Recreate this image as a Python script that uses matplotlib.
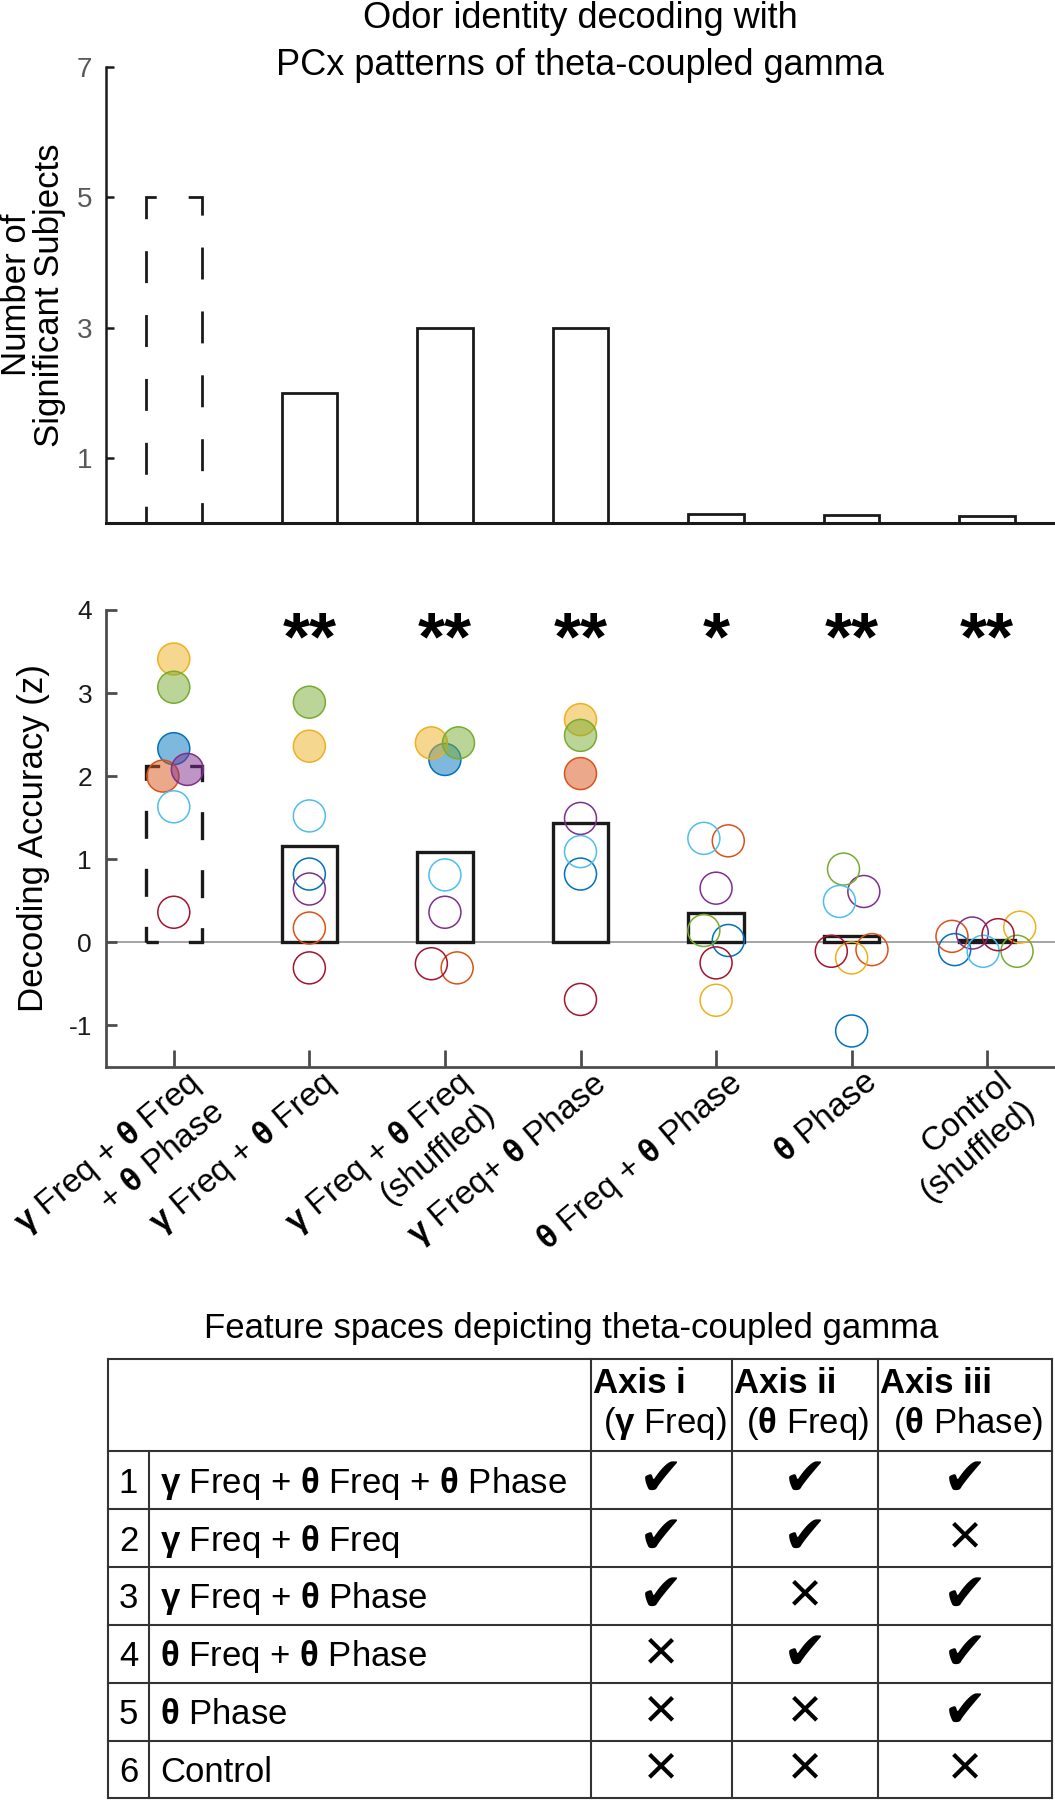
import matplotlib
matplotlib.use('Agg')
import matplotlib.pyplot as plt
import matplotlib.transforms as mtransforms
from matplotlib.colors import to_rgba

plt.rcParams['font.family'] = ['Liberation Sans', 'DejaVu Sans']
plt.rcParams['mathtext.fontset'] = 'custom'
plt.rcParams['mathtext.rm'] = 'Liberation Sans'
plt.rcParams['mathtext.bf'] = 'Liberation Sans:bold'
plt.rcParams['axes.unicode_minus'] = False

G = r'$\mathbf{\gamma}$'
T = r'$\mathbf{\theta}$'

# ---- data ----
feature_labels = [G + ' Freq + ' + T + ' Freq\n+ ' + T + ' Phase',
                  G + ' Freq + ' + T + ' Freq',
                  G + ' Freq + ' + T + ' Freq\n(shuffled)',
                  G + ' Freq+ ' + T + ' Phase',
                  T + ' Freq + ' + T + ' Phase',
                  T + ' Phase',
                  'Control\n(shuffled)']
n_significant = [5, 2, 3, 3, 0.14, 0.12, 0.10]
mean_acc = [2.12, 1.16, 1.08, 1.43, 0.35, 0.08, 0.03]
stars = ['', '**', '**', '**', '*', '**', '**']

subject_colors = ['#0072BD', '#D95319', '#EDB120', '#7E2F8E', '#77AC30', '#4DBEEE', '#A2142F']
acc_blue = [2.33, 0.82, 2.20, 0.82, 0.02, -1.07, -0.09]
acc_orange = [2.00, 0.17, -0.31, 2.03, 1.22, -0.09, 0.07]
acc_yellow = [3.41, 2.36, 2.40, 2.68, -0.70, -0.19, 0.18]
acc_purple = [2.08, 0.64, 0.36, 1.49, 0.65, 0.61, 0.11]
acc_green = [3.07, 2.89, 2.40, 2.49, 0.14, 0.88, -0.11]
acc_ltblue = [1.63, 1.52, 0.81, 1.09, 1.25, 0.49, -0.11]
acc_dkred = [0.36, -0.31, -0.26, -0.69, -0.25, -0.11, 0.09]

jit_blue = [0, 0, 0, 0, 0.09, 0, -0.24]
jit_orange = [-0.08, 0, 0.09, 0, 0.09, 0.15, -0.26]
jit_yellow = [0, 0, -0.10, 0, 0, 0, 0.24]
jit_purple = [0.10, 0, 0, 0, 0, 0.09, -0.11]
jit_green = [0, 0, 0.10, 0, -0.09, -0.06, 0.22]
jit_ltblue = [0, 0, 0, 0, -0.09, -0.09, -0.03]
jit_dkred = [0, 0, -0.10, 0, 0, -0.15, 0.08]

sig_blue = [1, 0, 1, 0, 0, 0, 0]
sig_orange = [1, 0, 0, 1, 0, 0, 0]
sig_yellow = [1, 1, 1, 1, 0, 0, 0]
sig_purple = [1, 0, 0, 0, 0, 0, 0]
sig_green = [1, 1, 1, 1, 0, 0, 0]
sig_ltblue = [0, 0, 0, 0, 0, 0, 0]
sig_dkred = [0, 0, 0, 0, 0, 0, 0]

accs = [acc_blue, acc_orange, acc_yellow, acc_purple, acc_green, acc_ltblue, acc_dkred]
jits = [jit_blue, jit_orange, jit_yellow, jit_purple, jit_green, jit_ltblue, jit_dkred]
sigs = [sig_blue, sig_orange, sig_yellow, sig_purple, sig_green, sig_ltblue, sig_dkred]

table_rows = [G + ' Freq + ' + T + ' Freq + ' + T + ' Phase',
              G + ' Freq + ' + T + ' Freq',
              G + ' Freq + ' + T + ' Phase',
              T + ' Freq + ' + T + ' Phase',
              T + ' Phase',
              'Control']
table_header = ['Axis i', 'Axis ii', 'Axis iii']
table_subheader = ['(' + G + ' Freq)', '(' + T + ' Freq)', '(' + T + ' Phase)']
table_marks = [[1, 1, 1], [1, 1, 0], [1, 0, 1], [0, 1, 1], [0, 0, 1], [0, 0, 0]]

xpos = list(range(1, 8))

fig = plt.figure(figsize=(10.55, 18), dpi=100)

# ---- top panel: number of significant subjects ----
ax1 = fig.add_axes([106 / 1055, 1 - 523 / 1800, 949 / 1055, 456 / 1800])
for i, x in enumerate(xpos):
    ls = (7, (11.5, 11.5)) if i == 0 else '-'
    ax1.bar(x, n_significant[i], width=0.41, fill=False, edgecolor='#1a1a1a',
            linewidth=2, linestyle=ls)
ax1.set_xlim(0.5, 7.5)
ax1.set_ylim(0, 7)
ax1.set_yticks([1, 3, 5, 7])
ax1.set_xticks([])
ax1.tick_params(axis='y', direction='in', length=6, width=1.8, color='#1a1a1a',
                labelcolor='#595959', labelsize=20, pad=10)
for s in ['top', 'right']:
    ax1.spines[s].set_visible(False)
ax1.spines['left'].set_linewidth(1.8)
ax1.spines['left'].set_color('#1a1a1a')
ax1.spines['bottom'].set_linewidth(2.2)
ax1.spines['bottom'].set_color('#1a1a1a')
ax1.set_ylabel('Number of\nSignificant Subjects', fontsize=25, va='center',
               linespacing=1.0)
ax1.yaxis.set_label_coords(-0.077, 0.5)
ax1.set_title('Odor identity decoding with\nPCx patterns of theta-coupled gamma',
              fontsize=26, y=0.9825, pad=0, va='baseline', linespacing=1.45)

# ---- middle panel: decoding accuracy ----
ax2 = fig.add_axes([106 / 1055, 1 - 1066.7 / 1800, 949 / 1055, 456.7 / 1800])
ax2.axhline(0, color='#8c8c8c', linewidth=1.1, zorder=0.5)
for i, x in enumerate(xpos):
    ls = (4.7, (8.4, 9)) if i == 0 else '-'
    ax2.bar(x, mean_acc[i], width=0.41, fill=False, edgecolor='#1a1a1a',
            linewidth=2.4, linestyle=ls, zorder=1)
for c, acc, jit, sig in zip(subject_colors, accs, jits, sigs):
    xs = [x + j for x, j in zip(xpos, jit)]
    faces = [to_rgba(c, 0.5) if f else 'none' for f in sig]
    ax2.scatter(xs, acc, s=530, facecolors=faces, edgecolors=c, linewidths=1.1, zorder=2)
for x, st in zip(xpos, stars):
    ax2.text(x, 3.41, st, ha='center', va='baseline', fontsize=50, fontweight='bold')
ax2.set_xlim(0.5, 7.5)
ax2.set_ylim(-1.5, 4)
ax2.set_yticks([-1, 0, 1, 2, 3, 4])
for s in ['top', 'right']:
    ax2.spines[s].set_visible(False)
for s in ['left', 'bottom']:
    ax2.spines[s].set_linewidth(2)
    ax2.spines[s].set_color('#4d4d4d')
ax2.tick_params(axis='y', direction='in', length=8, width=2, color='#4d4d4d',
                labelsize=19, labelcolor='#1a1a1a', pad=10)
ax2.tick_params(axis='x', direction='in', length=12, width=2, color='#4d4d4d', pad=0)
ax2.set_xticks(xpos)
ax2.set_xticklabels(feature_labels, rotation=40, ha='right', va='top',
                    rotation_mode='anchor', fontsize=24, multialignment='right')
shift = mtransforms.ScaledTranslation(11 / 100, 0, fig.dpi_scale_trans)
for lbl in ax2.get_xticklabels():
    lbl.set_transform(lbl.get_transform() + shift)
ax2.set_ylabel('Decoding Accuracy (z)', fontsize=25, va='center')
ax2.yaxis.set_label_coords(-0.076, 0.5)

# ---- table ----
fig.text(571 / 1055, 1 - 1338 / 1800, 'Feature spaces depicting theta-coupled gamma',
         ha='center', va='baseline', fontsize=25)
ax3 = fig.add_axes([108 / 1055, 1 - 1798 / 1800, 944 / 1055, 439 / 1800])
ax3.set_xlim(0, 1)
ax3.set_ylim(1, 0)
ax3.axis('off')
col_edges = [0, 0.0434, 0.5117, 0.6605, 0.8152, 1.0]
row_edges = [0, 0.2096, 0.3417, 0.4738, 0.6059, 0.738, 0.8701, 1.0]
lc = '#333333'
for y in row_edges:
    ax3.plot([0, 1], [y, y], color=lc, lw=1.5, clip_on=False, solid_capstyle='projecting')
for k, x in enumerate(col_edges):
    y0 = row_edges[1] if k == 1 else 0
    ax3.plot([x, x], [y0, 1], color=lc, lw=1.5, clip_on=False, solid_capstyle='projecting')

for j in range(3):
    ax3.text(col_edges[j + 2] + 2 / 944, 34 / 439, table_header[j], ha='left',
             va='baseline', fontsize=25, fontweight='bold')
    ax3.text((col_edges[j + 2] + col_edges[j + 3]) / 2 + 3 / 944, 74 / 439,
             table_subheader[j], ha='center', va='baseline', fontsize=25)

for i, (name, marks) in enumerate(zip(table_rows, table_marks)):
    yc = (row_edges[i + 1] + row_edges[i + 2]) / 2
    yb = yc + 12.5 / 439
    ax3.text((col_edges[0] + col_edges[1]) / 2, yb, str(i + 1), ha='center',
             va='baseline', fontsize=25)
    ax3.text(col_edges[1] + 11 / 944, yb, name, ha='left', va='baseline', fontsize=25)
    for j, m in enumerate(marks):
        xc = (col_edges[j + 2] + col_edges[j + 3]) / 2
        if m:
            ax3.text(xc, yc, '\u2714', ha='center', va='center', fontsize=38,
                     family='DejaVu Sans')
        else:
            ax3.text(xc, yc, '\u00d7', ha='center', va='center', fontsize=42)

fig.savefig('out.png', dpi=100)
